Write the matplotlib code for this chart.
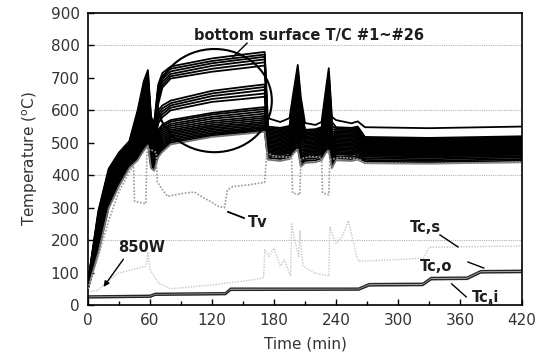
import matplotlib.pyplot as plt
from matplotlib.patches import Ellipse

# --- bottom surface thermocouples #1~#26 (index 0 = hottest on the plateau)
# sampling times (min) shared by all 26 curves
t_key = [0, 10, 20, 30, 40, 48, 54, 58, 61, 64, 68, 72, 80, 120, 150, 171,
         174, 186, 195, 199, 203, 206, 210, 220, 226, 230, 233, 236, 240,
         255, 261, 268, 330, 420]

tc_000 = [72, 70, 69, 68, 67, 66, 65, 64, 63, 62, 61, 60, 60, 59, 58, 57, 56, 56, 55, 54, 53, 52, 52, 51, 50, 50]
tc_010 = [290, 284, 279, 274, 269, 264, 259, 254, 249, 244, 239, 234, 229, 224, 219, 214, 209, 204, 199, 194, 189, 184, 179, 173, 167, 160]
tc_020 = [420, 415, 410, 405, 400, 395, 390, 385, 380, 375, 370, 365, 360, 355, 350, 345, 340, 335, 330, 325, 320, 315, 310, 306, 302, 298]
tc_030 = [470, 466, 462, 458, 454, 450, 446, 442, 438, 434, 430, 426, 422, 418, 414, 410, 406, 402, 398, 394, 390, 386, 382, 378, 372, 366]
tc_040 = [505, 502, 499, 496, 493, 490, 487, 484, 481, 478, 475, 472, 469, 466, 463, 460, 457, 454, 451, 448, 445, 442, 438, 434, 428, 422]
tc_048 = [600, 592, 584, 576, 568, 560, 552, 545, 538, 531, 524, 518, 512, 506, 500, 494, 488, 483, 478, 473, 468, 463, 458, 454, 450, 446]
tc_054 = [690, 680, 670, 660, 650, 640, 630, 620, 610, 600, 590, 580, 571, 562, 553, 545, 537, 529, 521, 514, 507, 500, 494, 488, 482, 476]
tc_058 = [724, 714, 704, 694, 684, 674, 664, 654, 644, 634, 624, 614, 604, 594, 584, 575, 566, 557, 548, 540, 532, 524, 516, 508, 500, 492]
tc_061 = [580, 572, 564, 556, 548, 540, 532, 525, 518, 511, 504, 498, 492, 486, 480, 474, 468, 462, 457, 452, 447, 442, 437, 432, 427, 422]
tc_064 = [562, 554, 546, 538, 531, 524, 517, 510, 503, 497, 491, 485, 479, 474, 469, 464, 459, 454, 449, 444, 439, 434, 429, 424, 419, 414]
tc_068 = [680, 668, 656, 644, 632, 620, 600, 590, 580, 570, 560, 540, 534, 528, 522, 516, 510, 504, 498, 492, 486, 480, 474, 468, 462, 456]
tc_072 = [715, 706, 697, 688, 679, 670, 615, 606, 597, 588, 579, 556, 550, 544, 538, 532, 526, 520, 514, 508, 502, 496, 490, 484, 478, 472]
tc_080 = [735, 728, 720, 712, 705, 698, 630, 622, 615, 608, 600, 570, 565, 558, 552, 546, 540, 535, 530, 525, 520, 515, 510, 505, 500, 495]
tc_120 = [760, 752, 745, 737, 728, 719, 660, 652, 644, 635, 626, 592, 587, 580, 574, 567, 561, 555, 550, 545, 540, 535, 530, 526, 522, 518]
tc_150 = [772, 764, 757, 749, 740, 730, 672, 664, 655, 645, 635, 603, 597, 590, 583, 576, 570, 564, 558, 553, 548, 543, 539, 535, 531, 527]
tc_171 = [780, 772, 765, 757, 748, 738, 680, 672, 663, 652, 642, 610, 604, 597, 590, 583, 577, 571, 565, 560, 555, 550, 546, 542, 538, 534]
tc_174 = [576, 550, 546, 542, 538, 534, 530, 526, 522, 518, 514, 510, 506, 502, 498, 494, 490, 486, 482, 478, 474, 470, 466, 460, 454, 448]
tc_186 = [564, 546, 542, 538, 534, 530, 526, 522, 518, 514, 510, 506, 502, 498, 494, 490, 486, 482, 478, 474, 470, 466, 462, 456, 450, 444]
tc_195 = [576, 552, 548, 544, 540, 536, 532, 528, 524, 520, 516, 512, 508, 504, 500, 496, 492, 488, 484, 480, 476, 472, 468, 462, 456, 450]
tc_199 = [660, 640, 630, 620, 610, 600, 590, 582, 574, 566, 558, 550, 544, 538, 532, 526, 520, 514, 508, 502, 497, 492, 487, 481, 475, 468]
tc_203 = [740, 728, 716, 704, 692, 680, 668, 656, 644, 632, 620, 608, 598, 588, 578, 568, 558, 548, 538, 528, 520, 512, 504, 496, 488, 480]
tc_206 = [640, 620, 605, 590, 578, 566, 555, 545, 536, 528, 520, 512, 505, 498, 492, 486, 480, 474, 468, 462, 456, 450, 444, 438, 432, 426]
tc_210 = [561, 540, 536, 532, 528, 524, 520, 516, 512, 508, 504, 500, 496, 492, 488, 484, 480, 476, 472, 468, 464, 460, 456, 450, 444, 438]
tc_220 = [555, 542, 538, 534, 530, 526, 522, 518, 514, 510, 506, 502, 498, 494, 490, 486, 482, 478, 474, 470, 466, 462, 458, 452, 446, 440]
tc_226 = [564, 548, 544, 540, 536, 532, 528, 524, 520, 516, 512, 508, 504, 500, 496, 492, 488, 484, 480, 476, 472, 468, 464, 458, 452, 446]
tc_230 = [660, 640, 630, 620, 610, 600, 590, 582, 574, 566, 558, 550, 544, 538, 532, 526, 520, 514, 508, 502, 497, 492, 487, 481, 475, 468]
tc_233 = [730, 718, 706, 694, 682, 670, 658, 646, 634, 622, 610, 600, 590, 580, 570, 560, 550, 541, 532, 524, 516, 508, 500, 492, 484, 476]
tc_236 = [580, 565, 552, 542, 534, 527, 520, 514, 508, 502, 497, 492, 487, 482, 477, 472, 467, 462, 457, 452, 447, 442, 437, 432, 427, 422]
tc_240 = [570, 548, 544, 540, 536, 532, 528, 524, 520, 516, 512, 508, 504, 500, 496, 492, 488, 484, 480, 476, 472, 468, 464, 458, 452, 446]
tc_255 = [560, 546, 542, 538, 534, 530, 526, 522, 518, 514, 510, 506, 502, 498, 494, 490, 486, 482, 478, 474, 470, 466, 462, 456, 450, 444]
tc_261 = [566, 550, 546, 542, 538, 534, 530, 526, 522, 518, 514, 510, 506, 502, 498, 494, 490, 486, 482, 478, 474, 470, 466, 460, 454, 448]
tc_268 = [548, 518, 515, 512, 509, 506, 503, 500, 497, 494, 491, 488, 485, 482, 479, 476, 473, 470, 467, 464, 461, 457, 452, 447, 442, 437]
tc_330 = [545, 515, 512, 509, 506, 503, 500, 497, 494, 491, 488, 485, 482, 479, 476, 473, 470, 467, 464, 461, 458, 454, 449, 444, 440, 436]
tc_420 = [550, 520, 517, 514, 511, 508, 505, 502, 499, 496, 493, 490, 487, 484, 481, 478, 475, 472, 469, 466, 463, 459, 455, 450, 445, 440]

bottom_rows = [tc_000, tc_010, tc_020, tc_030, tc_040, tc_048, tc_054, tc_058,
               tc_061, tc_064, tc_068, tc_072, tc_080, tc_120, tc_150, tc_171,
               tc_174, tc_186, tc_195, tc_199, tc_203, tc_206, tc_210, tc_220,
               tc_226, tc_230, tc_233, tc_236, tc_240, tc_255, tc_261, tc_268,
               tc_330, tc_420]

# --- Tv
tv_t = [0, 10, 20, 30, 40, 44, 45, 56, 57, 60, 66, 67, 72, 77, 85, 94, 103,
        112, 120, 125, 132, 135, 140, 155, 171, 173, 180, 197, 198, 205, 206,
        215, 226, 227, 233, 234, 245, 262, 268, 330, 420]
tv_T = [50, 150, 260, 350, 410, 430, 320, 312, 470, 480, 470, 380, 355, 335,
        340, 345, 348, 330, 317, 305, 300, 355, 365, 370, 378, 470, 458, 455,
        345, 340, 450, 458, 455, 345, 340, 448, 455, 450, 437, 435, 440]

# --- Tc,s
tcs_t = [0, 10, 20, 29, 42, 56, 58, 60, 68, 80, 120, 165, 170, 171, 175, 180,
         186, 190, 196, 197, 200, 204, 205, 208, 218, 225, 233, 234, 240, 245,
         252, 260, 262, 300, 325, 330, 420]
tcs_T = [40, 46, 75, 98, 108, 120, 160, 110, 68, 50, 62, 80, 85, 170, 150,
         175, 120, 140, 90, 250, 200, 150, 230, 120, 100, 95, 90, 240, 190,
         205, 260, 150, 135, 140, 145, 178, 182]

# --- Tc,o / Tc,i
tco_t = [0, 60, 65, 133, 138, 262, 272, 324, 332, 367, 380, 420]
tco_T = [28, 30, 36, 38, 52, 52, 66, 67, 85, 86, 106, 107]
tci_T = [22, 24, 30, 32, 45, 46, 59, 60, 78, 79, 99, 100]

TXT = "#1e1e1e"

fig = plt.figure(figsize=(5.51, 3.59), dpi=100)
ax = fig.add_axes([0.1597, 0.1504, 0.7877, 0.8134])

for y in [200, 400, 600, 800]:
    ax.axhline(y, color="0.7", lw=0.8, ls=(0, (1, 1)), zorder=0)

# faint series first
ax.plot(tcs_t, tcs_T, color="0.78", lw=1.0, ls=(0, (1, 1)), zorder=1)
ax.plot(tv_t, tv_T, color="0.6", lw=1.2, ls=(0, (1, 1)), zorder=3)

for i in range(26):
    ys = [row[i] for row in bottom_rows]
    col = "0.45" if i == 25 else "black"
    ax.plot(t_key, ys, color=col, lw=1.3, zorder=2)

ax.fill_between(tco_t, tci_T, tco_T, color="0.7", lw=0, zorder=2)
ax.plot(tco_t, tco_T, color="0.15", lw=1.0, zorder=2)
ax.plot(tco_t, tci_T, color="0.15", lw=1.0, zorder=2)

ax.set_xlim(0, 420)
ax.set_ylim(0, 900)
ax.set_xticks(range(0, 421, 60))
ax.set_xticks(range(30, 421, 60), minor=True)
ax.set_yticks(range(0, 901, 100))
ax.tick_params(direction="in", length=4, width=1, pad=6, labelsize=11,
               labelcolor="#333333")
ax.tick_params(which="minor", direction="in", length=3, width=1)
for s in ax.spines.values():
    s.set_linewidth(1.2)

ax.set_xlabel("Time (min)", fontsize=11, color="#333333", labelpad=6)
ax.set_ylabel(r"Temperature ($^{\rm o}$C)", fontsize=11, color="#333333",
              labelpad=8)

# annotations
ax.add_patch(Ellipse((122.4, 630), 111, 318, fill=False, lw=1.5,
                     color="black", zorder=4))
ax.text(102.6, 832, "bottom surface T/C #1~#26", fontsize=10.5,
        fontweight="bold", color=TXT, va="center", ha="left")
ax.plot([153.9, 140.3], [807, 764], color="black", lw=1.0)

ax.text(154.8, 253, "Tv", fontsize=10.5, fontweight="bold", color=TXT,
        va="center", ha="left")
ax.plot([135.5, 151], [287, 268], color="black", lw=1.3)

ax.text(29, 176, "850W", fontsize=10.5, fontweight="bold", color=TXT,
        va="center", ha="left")
ax.annotate("", xy=(13.5, 49), xytext=(35.8, 148),
            arrowprops=dict(arrowstyle="-|>", color="black", lw=1.0,
                            mutation_scale=8))

ax.text(311.6, 240, "Tc,s", fontsize=10.5, fontweight="bold", color=TXT,
        va="center", ha="left")
ax.plot([340.6, 358], [216, 179], color="black", lw=1.0)
ax.text(321.3, 120, "Tc,o", fontsize=10.5, fontweight="bold", color=TXT,
        va="center", ha="left")
ax.plot([367.7, 383], [132.5, 114], color="black", lw=1.0)
ax.text(371.6, 21.6, "Tc,i", fontsize=10.5, fontweight="bold", color=TXT,
        va="center", ha="left")
ax.plot([352, 366], [65, 25], color="black", lw=1.0)

fig.savefig("out.png", dpi=100)
